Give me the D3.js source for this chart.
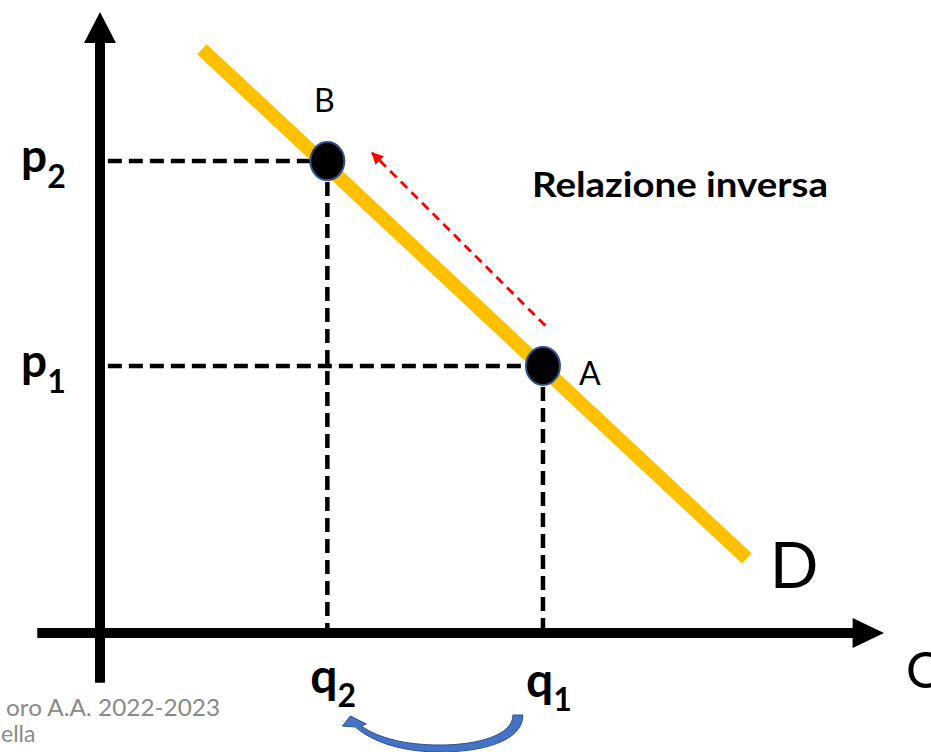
<!DOCTYPE html>
<html>
<head>
<meta charset="utf-8">
<script src="https://cdn.jsdelivr.net/npm/d3@7"></script>
<style>
  body { margin: 0; background: #fff; overflow: hidden; }
  svg { display: block; }
</style>
</head>
<body>
<div id="chart"></div>
<script>
// values (axis units 0-100)
const quantities = [56.5, 29];        // q1, q2
const prices = [43, 76];              // p1, p2
const pointNames = ["A", "B"];
const subscripts = ["1", "2"];
const demandQ = [13, 82.5];           // ends of the demand line
const demandP = [94, 12];
const shiftQ = [56.8, 34.7];          // red arrow, A towards B
const shiftP = [49.5, 77.3];
const title = "Relazione inversa";
const footer = ["oro A.A. 2022-2023", "ella"];

function draw() {
  const width = 931, height = 752;
  const font = "Lato, 'Open Sans', sans-serif";

  const svg = d3.select("#chart")
    .append("svg")
    .attr("width", width)
    .attr("height", height)
    .attr("viewBox", [0, 0, width, height])
    .style("font-family", font);

  // scales: origin of the diagram sits on the crossing of the axes
  const x = d3.scaleLinear().domain([0, 100]).range([100, 884]);
  const y = d3.scaleLinear().domain([0, 100]).range([633, 12]);

  const points = quantities.map((q, i) => ({q, p: prices[i], name: pointNames[i], sub: subscripts[i]}));
  const line = d3.line().x(d => x(d[0])).y(d => y(d[1]));

  // red arrow head
  svg.append("defs").append("marker")
    .attr("id", "redhead")
    .attr("viewBox", "0 0 10 10")
    .attr("refX", 9).attr("refY", 5)
    .attr("markerUnits", "userSpaceOnUse")
    .attr("markerWidth", 13).attr("markerHeight", 12)
    .attr("orient", "auto")
    .append("path")
      .attr("d", "M0,0 L10,5 L0,10 Z")
      .attr("fill", "#ff0000");

  // dashed guides from the points to the axes
  const guides = svg.append("g")
    .attr("fill", "none")
    .attr("stroke", "#000")
    .attr("stroke-width", 4.5)
    .attr("stroke-dasharray", "14,7");
  guides.selectAll(".h")
    .data(points)
    .join("path")
    .attr("d", d => line([[1, d.p], [d.q, d.p]]));
  guides.selectAll(".v")
    .data(points)
    .join("path")
    .attr("d", d => line([[d.q, d.p], [d.q, 0]]));

  // axes: thick black lines with arrow heads
  svg.append("path")
    .attr("d", line([[0, -8], [0, 95]]))
    .attr("stroke", "#000").attr("stroke-width", 10);
  svg.append("path")
    .attr("d", `M${x(0) - 16},${y(95)} L${x(0)},${y(100)} L${x(0) + 16},${y(95)} Z`)
    .attr("fill", "#000");
  svg.append("path")
    .attr("d", line([[-8, 0], [96.5, 0]]))
    .attr("stroke", "#000").attr("stroke-width", 10);
  svg.append("path")
    .attr("d", `M${x(96)},${y(0) - 15} L${x(100)},${y(0)} L${x(96)},${y(0) + 15} Z`)
    .attr("fill", "#000");

  // demand curve
  svg.append("path")
    .attr("d", line(demandQ.map((q, i) => [q, demandP[i]])))
    .attr("stroke", "#ffc000")
    .attr("stroke-width", 14)
    .attr("fill", "none");

  // red dashed movement arrow
  svg.append("path")
    .attr("d", line(shiftQ.map((q, i) => [q, shiftP[i]])))
    .attr("stroke", "#ff0000")
    .attr("stroke-width", 2.8)
    .attr("stroke-dasharray", "9,6")
    .attr("fill", "none")
    .attr("marker-end", "url(#redhead)");

  // points A and B
  svg.selectAll("ellipse")
    .data(points)
    .join("ellipse")
    .attr("cx", d => x(d.q))
    .attr("cy", d => y(d.p))
    .attr("rx", 17)
    .attr("ry", 19)
    .attr("fill", "#000")
    .attr("stroke", "#2f528f")
    .attr("stroke-width", 2);

  // point names
  svg.append("text")
    .attr("x", x(points[1].q) - 3).attr("y", y(points[1].p) - 49)
    .attr("text-anchor", "middle")
    .attr("font-size", 32)
    .text(points[1].name);
  svg.append("text")
    .attr("x", x(points[0].q) + 36).attr("y", y(points[0].p) + 19)
    .attr("font-size", 32)
    .text(points[0].name);

  // price labels on the y axis
  const pLab = svg.selectAll(".plab")
    .data(points)
    .join("text")
    .attr("class", "plab")
    .attr("x", 21)
    .attr("y", d => y(d.p) + 11)
    .attr("font-size", 46)
    .attr("font-weight", "bold");
  pLab.append("tspan").text("p");
  pLab.append("tspan").attr("dy", 16).attr("font-size", 32).text(d => d.sub);

  // quantity labels under the x axis
  const qLab = svg.selectAll(".qlab")
    .data(points)
    .join("text")
    .attr("class", "qlab")
    .attr("x", d => x(d.q) - 17)
    .attr("y", (d, i) => 697 - 4 * i)
    .attr("font-size", 48)
    .attr("font-weight", "bold");
  qLab.append("tspan").text("q");
  qLab.append("tspan").attr("dy", 14).attr("font-size", 32).text(d => d.sub);

  // curved blue arrow from q1 back to q2
  const x1 = x(quantities[0]), x2 = x(quantities[1]), mx = (x1 + x2) / 2;
  const c = d3.path();
  c.moveTo(x1 - 30, 715);
  c.lineTo(x1 - 20, 715);
  c.bezierCurveTo(x1 - 20, 742, mx + 45, 752, mx + 5, 752);
  c.bezierCurveTo(mx - 33, 752, x2 + 45, 742, x2 + 28, 727);
  c.lineTo(x2 + 15, 726);
  c.lineTo(x2 + 23, 716);
  c.lineTo(x2 + 39, 724);
  c.lineTo(x2 + 34, 726);
  c.bezierCurveTo(x2 + 51, 738, mx - 30, 745, mx + 5, 745);
  c.bezierCurveTo(mx + 43, 745, x1 - 30, 735, x1 - 30, 715);
  c.closePath();
  svg.append("path")
    .attr("d", c.toString())
    .attr("fill", "#4472c4")
    .attr("stroke", "#2f528f")
    .attr("stroke-width", 1);

  // title and curve / axis names
  svg.append("text")
    .attr("x", 532).attr("y", 197)
    .attr("font-size", 34)
    .attr("font-weight", "bold")
    .attr("textLength", 296)
    .attr("lengthAdjust", "spacingAndGlyphs")
    .text(title);
  svg.append("text")
    .attr("x", x(demandQ[1]) + 23).attr("y", y(demandP[1]) + 30)
    .attr("font-size", 64)
    .text("D");
  svg.append("text")
    .attr("x", 906).attr("y", 688)
    .attr("font-size", 50)
    .text("Q");

  // footer of the slide (only its right part is in view)
  svg.append("text")
    .attr("x", 6).attr("y", 716)
    .attr("font-size", 23)
    .attr("fill", "#898989")
    .attr("textLength", 214)
    .attr("lengthAdjust", "spacingAndGlyphs")
    .text(footer[0]);
  svg.append("text")
    .attr("x", 1).attr("y", 742)
    .attr("font-size", 23)
    .attr("fill", "#898989")
    .text(footer[1]);
}

draw();
</script>
</body>
</html>
